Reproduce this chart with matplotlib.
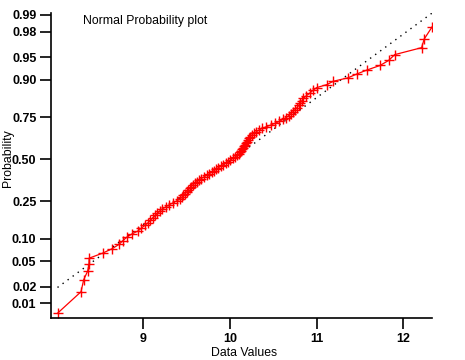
import numpy as np
import matplotlib
matplotlib.use('Agg')
import matplotlib.pyplot as plt
from statistics import NormalDist

# sorted sample values
data_values = [8.012, 8.283, 8.314, 8.360, 8.375, 8.378, 8.535, 8.645, 8.720, 8.765,
               8.810, 8.870, 8.940, 8.980, 9.020, 9.058, 9.083, 9.110, 9.136, 9.164,
               9.190, 9.220, 9.260, 9.300, 9.343, 9.386, 9.427, 9.445, 9.464, 9.483,
               9.501, 9.518, 9.535, 9.553, 9.570, 9.593, 9.618, 9.644, 9.669, 9.699,
               9.730, 9.760, 9.789, 9.815, 9.842, 9.868, 9.895, 9.922, 9.950, 9.978,
               10.005, 10.033, 10.060, 10.087, 10.104, 10.116, 10.128, 10.140, 10.152, 10.164,
               10.176, 10.188, 10.200, 10.212, 10.225, 10.237, 10.250, 10.276, 10.304, 10.332,
               10.370, 10.420, 10.473, 10.525, 10.571, 10.608, 10.645, 10.678, 10.703, 10.728,
               10.752, 10.775, 10.793, 10.810, 10.829, 10.847, 10.880, 10.920, 10.955, 11.000,
               11.120, 11.190, 11.360, 11.460, 11.580, 11.730, 11.830, 11.900, 12.210, 12.240,
               12.330]

# plotting positions on the probability axis
probabilities = [0.0065, 0.0163, 0.0260, 0.0358, 0.0456, 0.0554, 0.0651, 0.0749, 0.0847, 0.0944,
                 0.1042, 0.1140, 0.1237, 0.1335, 0.1433, 0.1531, 0.1628, 0.1726, 0.1824, 0.1921,
                 0.2019, 0.2117, 0.2214, 0.2312, 0.2410, 0.2508, 0.2605, 0.2703, 0.2801, 0.2898,
                 0.2996, 0.3094, 0.3191, 0.3289, 0.3387, 0.3485, 0.3582, 0.3680, 0.3778, 0.3875,
                 0.3973, 0.4071, 0.4168, 0.4266, 0.4364, 0.4462, 0.4559, 0.4657, 0.4755, 0.4852,
                 0.4950, 0.5048, 0.5145, 0.5243, 0.5341, 0.5439, 0.5536, 0.5634, 0.5732, 0.5829,
                 0.5927, 0.6025, 0.6122, 0.6220, 0.6318, 0.6416, 0.6513, 0.6611, 0.6709, 0.6806,
                 0.6904, 0.7002, 0.7099, 0.7197, 0.7295, 0.7393, 0.7490, 0.7588, 0.7686, 0.7783,
                 0.7881, 0.7979, 0.8076, 0.8174, 0.8272, 0.8370, 0.8467, 0.8565, 0.8663, 0.8760,
                 0.8858, 0.8956, 0.9053, 0.9151, 0.9249, 0.9347, 0.9444, 0.9542, 0.9640, 0.9737,
                 0.9835]

# fitted normal reference line
fit_mean = 10.03
fit_sd = 0.976

prob_ticks = [0.01, 0.02, 0.05, 0.10, 0.25, 0.50, 0.75, 0.90, 0.95, 0.98, 0.99]
prob_labels = ['0.01', '0.02', '0.05', '0.10', '0.25', '0.50', '0.75', '0.90', '0.95', '0.98', '0.99']
x_ticks = [9, 10, 11, 12]

nd = NormalDist()
_ppf = np.vectorize(lambda p: nd.inv_cdf(min(max(p, 1e-9), 1 - 1e-9)), otypes=[float])
_cdf = np.vectorize(nd.cdf, otypes=[float])


def forward(p):
    return _ppf(np.asarray(p, dtype=float))


def inverse(z):
    return _cdf(np.asarray(z, dtype=float))


plt.rcParams['font.family'] = ['Liberation Sans', 'DejaVu Sans']

fig = plt.figure(figsize=(4.65, 3.6), dpi=100)
ax = fig.add_axes([51 / 465, 42 / 360, 381 / 465, 304.7 / 360])
ax.set_yscale('function', functions=(forward, inverse))

# reference line through the fit
xr = np.array([min(data_values), max(data_values)])
pr = [nd.cdf((v - fit_mean) / fit_sd) for v in xr]
ax.plot(xr, pr, color='black', lw=1, linestyle=(0, (1, 3.5)))

ax.plot(data_values, probabilities, color='red', lw=0.9, marker='+',
        markersize=7.5, markeredgewidth=1.0)

ax.set_xlim(7.937, 12.33)
ax.set_ylim(0.00523, 0.9907)

ax.set_yticks(prob_ticks)
ax.set_yticklabels(prob_labels)
ax.set_xticks(x_ticks)
ax.set_xticklabels([str(t) for t in x_ticks])
ax.yaxis.set_minor_locator(matplotlib.ticker.NullLocator())
ax.xaxis.set_minor_locator(matplotlib.ticker.NullLocator())

for s in ['top', 'right']:
    ax.spines[s].set_visible(False)
for s in ['left', 'bottom']:
    ax.spines[s].set_linewidth(1.2)
ax.tick_params(direction='out', length=8, width=1.2, labelsize=9, pad=2.5)
for lab in ax.get_xticklabels() + ax.get_yticklabels():
    lab.set_fontweight('bold')

fig.text(244.5 / 465, 1 - 352.7 / 360, 'Data Values', ha='center', va='center', fontsize=8.8)
fig.text(8 / 465, 1 - 158 / 360, 'Probability', ha='center', va='center',
         rotation=90, fontsize=8.8)
fig.text(82.7 / 465, 1 - 21 / 360, 'Normal Probability plot', ha='left', va='center',
         fontsize=8.8)

fig.savefig('out.png', dpi=100)
